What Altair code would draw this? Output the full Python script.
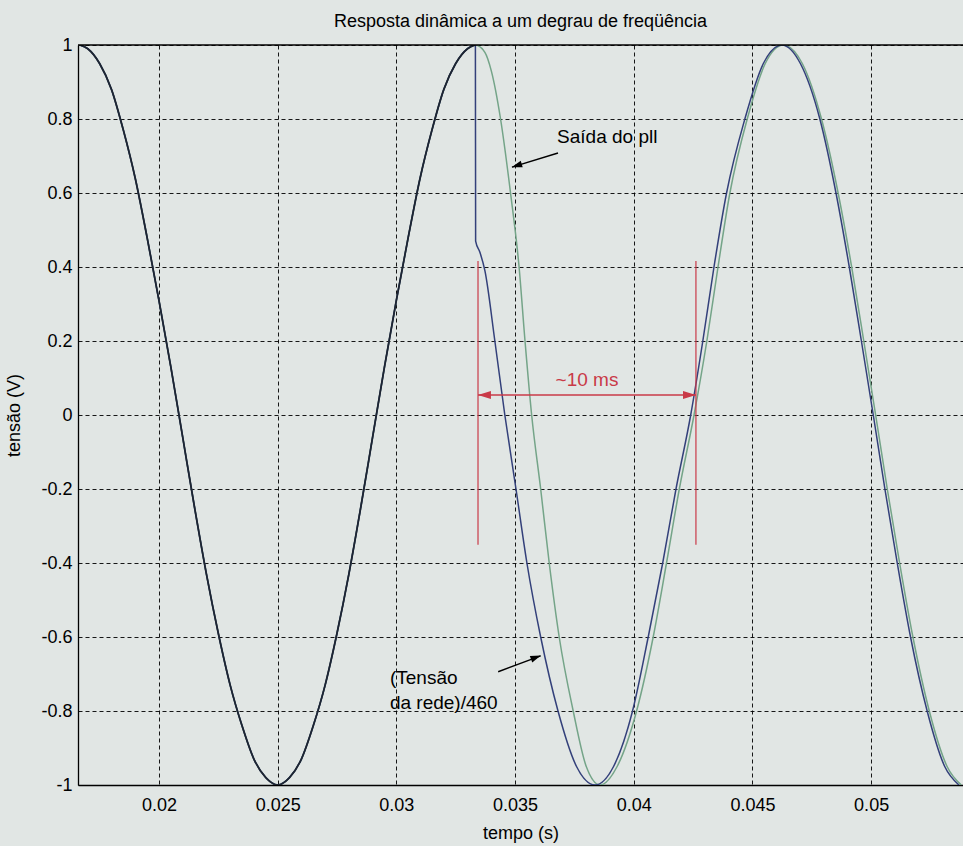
import altair as alt
import pandas as pd

# ---- data ----
# common part (both signals overlap, 60 Hz before the step)
t_pre = [0.01667, 0.0170, 0.0175, 0.0180, 0.0185, 0.0190, 0.0195, 0.0200, 0.0205, 0.0210,
         0.0215, 0.0220, 0.0225, 0.0230, 0.0235, 0.0240, 0.0245, 0.0250, 0.0255, 0.0260,
         0.0265, 0.0270, 0.0275, 0.0280, 0.0285, 0.0290, 0.0295, 0.0300, 0.0305, 0.0310,
         0.0315, 0.0320, 0.0325, 0.0330, 0.03333]
v_pre = [1.00, 0.99, 0.95, 0.88, 0.77, 0.64, 0.48, 0.31, 0.13, -0.06,
         -0.25, -0.43, -0.59, -0.73, -0.84, -0.93, -0.98, -1.00, -0.98, -0.93,
         -0.84, -0.73, -0.59, -0.43, -0.25, -0.06, 0.13, 0.31, 0.48, 0.64,
         0.77, 0.88, 0.95, 0.99, 1.00]

# (Tensão da rede)/460 after the step
t_blue = [0.03334, 0.03352, 0.03373, 0.03415, 0.03457, 0.03504, 0.03550, 0.03608, 0.03681,
          0.03759, 0.03837, 0.03915, 0.03995, 0.04061, 0.04122, 0.04178, 0.04240, 0.04291,
          0.04338, 0.04391, 0.04468, 0.04546, 0.04624, 0.04702, 0.04784, 0.04852, 0.04908,
          0.04959, 0.05009, 0.05058, 0.05110, 0.05166, 0.05236, 0.05310, 0.05370]
v_blue = [0.47, 0.44, 0.39, 0.20, 0.00, -0.20, -0.40, -0.60, -0.80,
          -0.95, -1.00, -0.95, -0.80, -0.60, -0.40, -0.20, 0.00, 0.20,
          0.40, 0.60, 0.80, 0.95, 1.00, 0.95, 0.80, 0.60, 0.40,
          0.20, 0.00, -0.20, -0.40, -0.60, -0.80, -0.95, -1.00]

# Saída do pll after the step
t_green = [0.03373, 0.03400, 0.03439, 0.03481, 0.03517, 0.03542, 0.03570, 0.03608, 0.03644,
           0.03686, 0.03745, 0.03800, 0.03858, 0.03930, 0.04012, 0.04082, 0.04138, 0.04192,
           0.04254, 0.04308, 0.04355, 0.04405, 0.04478, 0.04554, 0.04630, 0.04710, 0.04791,
           0.04861, 0.04918, 0.04969, 0.05019, 0.05068, 0.05120, 0.05176, 0.05245, 0.05320,
           0.05380]
v_green = [0.98, 0.93, 0.80, 0.60, 0.40, 0.20, 0.00, -0.20, -0.40,
           -0.60, -0.80, -0.95, -1.00, -0.95, -0.80, -0.60, -0.40, -0.20,
           0.00, 0.20, 0.40, 0.60, 0.80, 0.95, 1.00, 0.95, 0.80,
           0.60, 0.40, 0.20, 0.00, -0.20, -0.40, -0.60, -0.80, -0.95,
           -1.00]

x_ticks = [0.02, 0.025, 0.03, 0.035, 0.04, 0.045, 0.05]
y_ticks = [-1, -0.8, -0.6, -0.4, -0.2, 0, 0.2, 0.4, 0.6, 0.8, 1]
x_domain = [0.01659, 0.05387]
y_domain = [-1, 1]

# annotations (data units)
bracket_t = [0.03344, 0.04262]
bracket_top = [0.416, 0.416]
bracket_bot = [-0.351, -0.351]
span_v = [0.054]
head_t = [0.03371, 0.04235]
head_v = [0.054, 0.054]
span_label = ["~10 ms"]
span_label_t = [0.03803]
span_label_v = [0.095]

labels_text = ["Saída do pll", "(Tensão", "da rede)/460"]
labels_t = [0.03677, 0.02973, 0.02973]
labels_v = [0.751, -0.711, -0.778]

arrow_tail_t = [0.03681, 0.03429]
arrow_tail_v = [0.708, -0.694]
arrow_tip_t = [0.03487, 0.03608]
arrow_tip_v = [0.670, -0.651]
arrow_head_t = [0.03507, 0.03588]
arrow_head_v = [0.674, -0.655]
arrow_angle = [253, 69]

# ---- frames ----
df_pre = pd.DataFrame({"t": t_pre, "v": v_pre})
df_blue = pd.DataFrame({"t": t_pre + t_blue, "v": v_pre + v_blue})
df_green = pd.DataFrame({"t": t_pre + t_green, "v": v_pre + v_green})
df_brk = pd.DataFrame({"t": bracket_t, "v1": bracket_top, "v2": bracket_bot})
df_span = pd.DataFrame({"t1": [bracket_t[0]], "t2": [bracket_t[1]], "v": span_v})
df_head_l = pd.DataFrame({"t": [head_t[0]], "v": [head_v[0]]})
df_head_r = pd.DataFrame({"t": [head_t[1]], "v": [head_v[1]]})
df_span_lbl = pd.DataFrame({"t": span_label_t, "v": span_label_v, "s": span_label})
df_lbl = pd.DataFrame({"t": labels_t, "v": labels_v, "s": labels_text})
df_arr = pd.DataFrame({"t1": arrow_tail_t, "v1": arrow_tail_v, "t2": arrow_tip_t, "v2": arrow_tip_v})

FONT = "Liberation Sans"
RED = "#c93a48"
xs = alt.Scale(domain=x_domain, nice=False, zero=False)
ys = alt.Scale(domain=y_domain, nice=False, zero=False)

minus_fix = "replace(datum.label, '\u2212', '-')"

x_axis = alt.Axis(values=x_ticks, format=".3~f", labelExpr=minus_fix, grid=True, ticks=False,
                  gridColor="black", gridDash=[4, 3], gridOpacity=0.9, gridWidth=1,
                  domainColor="black", domainWidth=1.3, labelFont=FONT, labelFontSize=18,
                  labelColor="black", labelPadding=11, title="tempo (s)", titleFont=FONT,
                  titleFontSize=18, titleFontWeight="normal", titleColor="black", titlePadding=10)
y_axis = alt.Axis(values=y_ticks, format=".1~f", labelExpr=minus_fix, grid=True, ticks=False,
                  gridColor="black", gridDash=[4, 3], gridOpacity=0.9, gridWidth=1,
                  domainColor="black", domainWidth=1.3, labelFont=FONT, labelFontSize=18,
                  labelColor="black", labelPadding=6, title="tensão (V)", titleFont=FONT,
                  titleFontSize=18, titleFontWeight="normal", titleColor="black",
                  titleX=-64, titleY=370, titleAlign="center", titleBaseline="middle")


def X(field):
    return alt.X(field, scale=xs)


def Y(field):
    return alt.Y(field, scale=ys)


green = alt.Chart(df_green).mark_line(interpolate="monotone", color="#74a488", strokeWidth=1.5, clip=True).encode(
    x=alt.X("t:Q", scale=xs, axis=x_axis),
    y=alt.Y("v:Q", scale=ys, axis=y_axis),
)
blue = alt.Chart(df_blue).mark_line(interpolate="monotone", color="#33407a", strokeWidth=1.5, clip=True).encode(
    x=X("t:Q"), y=Y("v:Q"))
pre = alt.Chart(df_pre).mark_line(interpolate="monotone", color="#1e2532", strokeWidth=1.8, clip=True).encode(
    x=X("t:Q"), y=Y("v:Q"))

top_frame = alt.Chart(df_span).mark_rule(color="black", strokeWidth=1.3).encode(y=alt.datum(1, scale=ys))

brk = alt.Chart(df_brk).mark_rule(color=RED, strokeWidth=1.2).encode(
    x=X("t:Q"), y=Y("v1:Q"), y2="v2:Q")
span = alt.Chart(df_span).mark_rule(color=RED, strokeWidth=1.6).encode(
    x=X("t1:Q"), x2="t2:Q", y=Y("v:Q"))
head_l = alt.Chart(df_head_l).mark_point(shape="M-1,0L1,-0.6L1,0.6Z", filled=True, color=RED, opacity=1, size=170).encode(
    x=X("t:Q"), y=Y("v:Q"))
head_r = alt.Chart(df_head_r).mark_point(shape="M1,0L-1,-0.6L-1,0.6Z", filled=True, color=RED, opacity=1, size=170).encode(
    x=X("t:Q"), y=Y("v:Q"))
span_lbl = alt.Chart(df_span_lbl).mark_text(font=FONT, fontSize=19, color=RED, align="center", baseline="middle").encode(
    x=X("t:Q"), y=Y("v:Q"), text="s:N")

lbl = alt.Chart(df_lbl).mark_text(font=FONT, fontSize=19, color="black", align="left", baseline="middle").encode(
    x=X("t:Q"), y=Y("v:Q"), text="s:N")
arr = alt.Chart(df_arr).mark_rule(color="black", strokeWidth=1.4).encode(
    x=X("t1:Q"), y=Y("v1:Q"), x2="t2:Q", y2="v2:Q")
heads = []
for i in range(len(arrow_head_t)):
    dfh = pd.DataFrame({"t": [arrow_head_t[i]], "v": [arrow_head_v[i]]})
    heads.append(alt.Chart(dfh).mark_point(shape="M0,-1L0.65,1L-0.65,1Z", filled=True, color="black", opacity=1,
                                           size=110, angle=arrow_angle[i]).encode(
        x=X("t:Q"), y=Y("v:Q")))

chart = alt.layer(green, blue, pre, top_frame, brk, span, head_l, head_r, span_lbl, lbl, arr, *heads).properties(
    width=885, height=740,
    autosize=alt.AutoSizeParams(type="none"),
    padding={"left": 78, "top": 45, "right": 0, "bottom": 61},
    title=alt.TitleParams("Resposta dinâmica a um degrau de freqüência", font=FONT, fontSize=18,
                          fontWeight="normal", color="black", anchor="middle", offset=5),
).configure(background="#e1e6e4").configure_view(strokeWidth=0)

chart.save("out.html", embed_options={"renderer": "svg", "actions": False})
